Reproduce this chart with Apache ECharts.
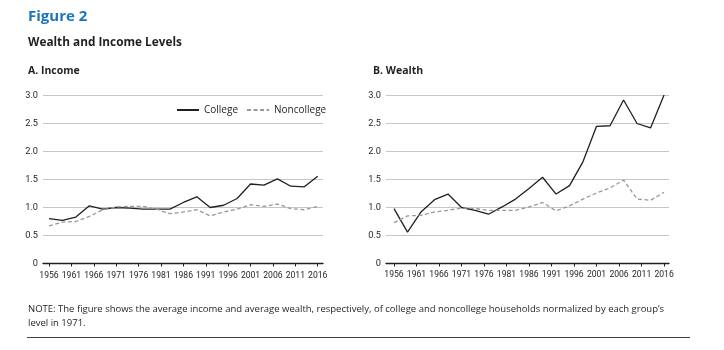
<!DOCTYPE html>
<html>
<head>
<meta charset="utf-8">
<script src="https://cdn.jsdelivr.net/npm/echarts@6/dist/echarts.min.js"></script>
<style>
  html, body { margin: 0; padding: 0; background: #fff; }
  #wrap { position: relative; width: 724px; height: 350px; }
  #chart { position: absolute; left: 0; top: 0; width: 724px; height: 350px; }
  .t { position: absolute; font-family: "Open Sans", sans-serif; color: #231f20; white-space: nowrap; }
  #fig { left: 28px; top: 5px; font-size: 15px; font-weight: bold; color: #1b75bb; }
  #sub { left: 28px; top: 33px; font-size: 11.8px; font-weight: bold; }
  .panel { top: 63px; font-size: 10.5px; font-weight: bold; }
  #note { left: 28px; top: 302px; font-size: 9.5px; line-height: 14px; }
  #rule { position: absolute; left: 27px; top: 337px; width: 663px; height: 0; border-top: 1.3px solid #444; }
</style>
</head>
<body>
<div id="wrap">
  <div id="chart"></div>
  <div class="t" id="fig">Figure 2</div>
  <div class="t" id="sub">Wealth and Income Levels</div>
  <div class="t panel" style="left:28px">A. Income</div>
  <div class="t panel" style="left:373px">B. Wealth</div>
  <div class="t" id="note">NOTE: The figure shows the average income and average wealth, respectively, of college and noncollege households normalized by each group’s<br>level in 1971.</div>
  <div id="rule"></div>
</div>
<script>
// 调查年份 (每三年一次)
const years = [1956, 1959, 1962, 1965, 1968, 1971, 1974, 1977, 1980, 1983, 1986,
  1989, 1992, 1995, 1998, 2001, 2004, 2007, 2010, 2013, 2016]
const yearTicks = [1956, 1961, 1966, 1971, 1976, 1981, 1986, 1991, 1996, 2001, 2006, 2011, 2016]

// A. 收入
const incomeCollege = [0.80, 0.77, 0.83, 1.03, 0.97, 1.00, 0.99, 0.97, 0.97, 0.97, 1.09,
  1.19, 1.00, 1.04, 1.16, 1.42, 1.40, 1.51, 1.38, 1.37, 1.56]
const incomeNoncollege = [0.67, 0.74, 0.75, 0.84, 0.96, 1.01, 1.02, 1.02, 0.97, 0.89, 0.92,
  0.96, 0.85, 0.92, 0.97, 1.05, 1.02, 1.06, 0.98, 0.96, 1.02]

// B. 财富
const wealthCollege = [0.98, 0.56, 0.92, 1.14, 1.24, 1.00, 0.95, 0.88, 1.01, 1.15, 1.34,
  1.54, 1.24, 1.39, 1.82, 2.45, 2.46, 2.92, 2.50, 2.42, 3.01]
const wealthNoncollege = [0.73, 0.85, 0.86, 0.92, 0.95, 0.99, 0.98, 0.95, 0.95, 0.95, 1.01,
  1.09, 0.94, 1.03, 1.15, 1.26, 1.35, 1.49, 1.15, 1.13, 1.27]

const pair = arr => years.map((y, i) => [y, arr[i]])

const labelFont = { fontFamily: 'Roboto', fontSize: 8.6, color: '#231f20' }

function xAxisFor(gridIndex, min, max, offset) {
  return {
    type: 'value', gridIndex, min, max, offset,
    axisLine: { show: true, lineStyle: { color: '#231f20', width: 1.3 } },
    axisTick: { show: true, length: 3, customValues: yearTicks, lineStyle: { color: '#231f20', width: 1 } },
    axisLabel: { ...labelFont, customValues: yearTicks, margin: 3, formatter: v => String(v) },
    splitLine: { show: false }
  }
}

function yAxisFor(gridIndex) {
  return {
    type: 'value', gridIndex, min: 0, max: 3, interval: 0.5,
    axisLine: { show: false }, axisTick: { show: false },
    axisLabel: { ...labelFont, fontSize: 9.2, margin: 5, formatter: v => v === 0 ? '0' : v.toFixed(1) },
    splitLine: { lineStyle: { color: '#c6c6c6', width: 1.2 } }
  }
}

function lineSeries(name, idx, data, dashed) {
  return {
    name, type: 'line', xAxisIndex: idx, yAxisIndex: idx, data: pair(data),
    symbol: 'none', animation: false,
    lineStyle: dashed
      ? { color: '#9a9a9a', width: 1.3, type: [4, 2.5] }
      : { color: '#231f20', width: 1.3 },
    itemStyle: { color: dashed ? '#9a9a9a' : '#231f20' }
  }
}

const chart = echarts.init(document.getElementById('chart'))
chart.setOption({
  animation: false,
  grid: [
    { left: 43, right: 401, top: 95.5, bottom: 86.5 },
    { left: 386, right: 55, top: 95.5, bottom: 86.5 }
  ],
  legend: {
    orient: 'horizontal', left: 176, top: 105, padding: 0,
    itemWidth: 22, itemHeight: 10, itemGap: 8,
    itemStyle: { opacity: 0 },
    textStyle: { fontFamily: 'Open Sans', fontSize: 10, color: '#231f20' },
    data: ['College', 'Noncollege']
  },
  xAxis: [
    xAxisFor(0, 1954.66, 2017.18, 5),
    xAxisFor(1, 1954.22, 2017.1, 4)
  ],
  yAxis: [yAxisFor(0), yAxisFor(1)],
  series: [
    lineSeries('College', 0, incomeCollege, false),
    lineSeries('Noncollege', 0, incomeNoncollege, true),
    lineSeries('College', 1, wealthCollege, false),
    lineSeries('Noncollege', 1, wealthNoncollege, true)
  ]
})
</script>
</body>
</html>
